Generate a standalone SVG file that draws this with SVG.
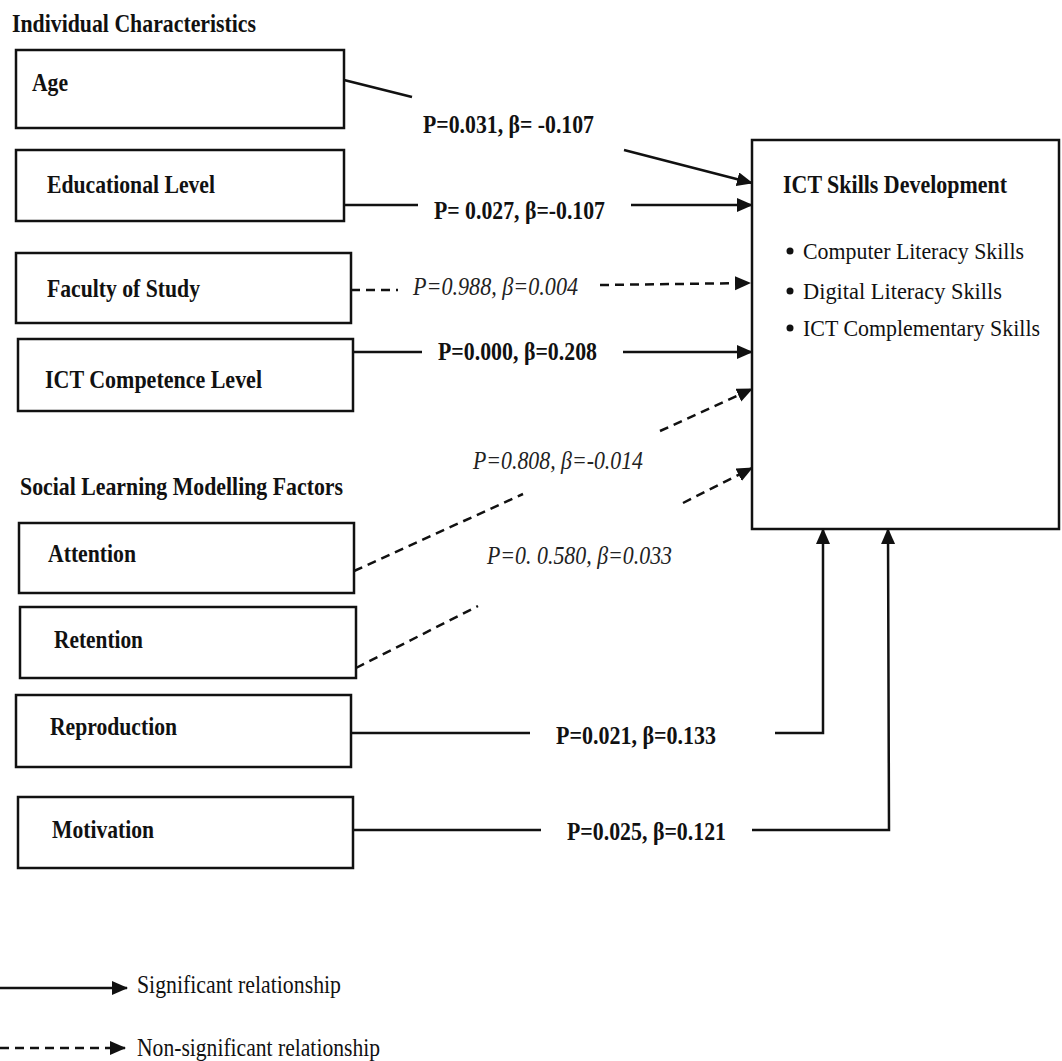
<svg xmlns="http://www.w3.org/2000/svg" width="1062" height="1061" viewBox="0 0 1062 1061">
<style>
  .box { fill: #ffffff; stroke: #111111; stroke-width: 2.5; }
  .lbl { font-family: "Liberation Serif", "Times New Roman", serif; font-size: 26px; font-weight: bold; fill: #111111; }
  .rel { font-family: "Liberation Serif", "Times New Roman", serif; font-size: 26px; font-weight: bold; fill: #111111; }
  .ns { font-family: "Liberation Serif", "Times New Roman", serif; font-size: 26px; font-style: italic; fill: #222222; }
  .reg { font-family: "Liberation Serif", "Times New Roman", serif; font-size: 26px; fill: #111111; }
  .bul { font-family: "Liberation Serif", "Times New Roman", serif; font-size: 23px; fill: #111111; }
  .sol { fill: none; stroke: #111111; stroke-width: 2.5; }
  .dash { fill: none; stroke: #111111; stroke-width: 2.5; stroke-dasharray: 9 6; }
</style>
<defs>
  <marker id="ah" markerUnits="userSpaceOnUse" markerWidth="17" markerHeight="15" refX="15" refY="7" orient="auto">
    <path d="M0,0 L16,7 L0,14 Z" fill="#111111"/>
  </marker>
</defs>
<rect width="1062" height="1061" fill="#ffffff"/>

<text class="lbl" x="12" y="32" textLength="244" lengthAdjust="spacingAndGlyphs">Individual Characteristics</text>
<text class="lbl" x="20" y="495" textLength="323" lengthAdjust="spacingAndGlyphs">Social Learning Modelling Factors</text>

<g id="age">
  <rect class="box" x="16" y="50" width="328" height="78"/>
  <text class="lbl" x="32" y="91" textLength="36" lengthAdjust="spacingAndGlyphs">Age</text>
</g>
<g id="education">
  <rect class="box" x="16" y="150" width="328" height="71"/>
  <text class="lbl" x="47" y="193" textLength="168" lengthAdjust="spacingAndGlyphs">Educational Level</text>
</g>
<g id="faculty">
  <rect class="box" x="16" y="253" width="335" height="70"/>
  <text class="lbl" x="47" y="297" textLength="153" lengthAdjust="spacingAndGlyphs">Faculty of Study</text>
</g>
<g id="competence">
  <rect class="box" x="18" y="339" width="335" height="72"/>
  <text class="lbl" x="45" y="388" textLength="217" lengthAdjust="spacingAndGlyphs">ICT Competence Level</text>
</g>
<g id="attention">
  <rect class="box" x="19" y="523" width="335" height="70"/>
  <text class="lbl" x="48" y="562" textLength="88" lengthAdjust="spacingAndGlyphs">Attention</text>
</g>
<g id="retention">
  <rect class="box" x="20" y="607" width="336" height="71"/>
  <text class="lbl" x="54" y="648" textLength="89" lengthAdjust="spacingAndGlyphs">Retention</text>
</g>
<g id="reproduction">
  <rect class="box" x="16" y="695" width="335" height="72"/>
  <text class="lbl" x="50" y="735" textLength="127" lengthAdjust="spacingAndGlyphs">Reproduction</text>
</g>
<g id="motivation">
  <rect class="box" x="18" y="797" width="335" height="71"/>
  <text class="lbl" x="52" y="838" textLength="102" lengthAdjust="spacingAndGlyphs">Motivation</text>
</g>

<g id="ict-skills">
  <rect class="box" x="752" y="140" width="307" height="389"/>
  <text class="lbl" x="783" y="193" textLength="224" lengthAdjust="spacingAndGlyphs">ICT Skills Development</text>
  <circle cx="790" cy="251" r="3.5" fill="#111111"/>
  <text class="bul" x="803" y="259" textLength="221" lengthAdjust="spacingAndGlyphs">Computer Literacy Skills</text>
  <circle cx="790" cy="291" r="3.5" fill="#111111"/>
  <text class="bul" x="803" y="299" textLength="199" lengthAdjust="spacingAndGlyphs">Digital Literacy  Skills</text>
  <circle cx="790" cy="328" r="3.5" fill="#111111"/>
  <text class="bul" x="803" y="336" textLength="237" lengthAdjust="spacingAndGlyphs">ICT Complementary Skills</text>
</g>

<g id="connectors">
  <path class="sol" d="M344,80 L412,97"/>
  <path class="sol" d="M624,150 L752,183" marker-end="url(#ah)"/>
  <text class="rel" x="423" y="133" textLength="171" lengthAdjust="spacingAndGlyphs">P=0.031, β= -0.107</text>
  <path class="sol" d="M344,205 L418,205"/>
  <path class="sol" d="M631,205 L752,205" marker-end="url(#ah)"/>
  <text class="rel" x="434" y="219" textLength="171" lengthAdjust="spacingAndGlyphs">P= 0.027, β=-0.107</text>
  <path class="dash" d="M351,290 L398,290"/>
  <path class="dash" d="M600,285 L750,283" marker-end="url(#ah)"/>
  <text class="ns" x="413" y="295" textLength="165" lengthAdjust="spacingAndGlyphs">P=0.988, β=0.004</text>
  <path class="sol" d="M353,352 L422,352"/>
  <path class="sol" d="M623,352 L752,352" marker-end="url(#ah)"/>
  <text class="rel" x="438" y="360" textLength="159" lengthAdjust="spacingAndGlyphs">P=0.000, β=0.208</text>
  <path class="dash" d="M354,571 L523,494"/>
  <path class="dash" d="M660,431 L752,389" marker-end="url(#ah)"/>
  <text class="ns" x="473" y="469" textLength="170" lengthAdjust="spacingAndGlyphs">P=0.808, β=-0.014</text>
  <path class="dash" d="M356,668 L478,606"/>
  <path class="dash" d="M683,503 L752,468" marker-end="url(#ah)"/>
  <text class="ns" x="487" y="564" textLength="185" lengthAdjust="spacingAndGlyphs">P=0. 0.580, β=0.033</text>
  <path class="sol" d="M351,733 L530,733"/>
  <path class="sol" d="M775,733 L823,733 L823,529" marker-end="url(#ah)"/>
  <text class="rel" x="556" y="744" textLength="160" lengthAdjust="spacingAndGlyphs">P=0.021, β=0.133</text>
  <path class="sol" d="M353,830 L541,830"/>
  <path class="sol" d="M752,830 L889,830 L888,529" marker-end="url(#ah)"/>
  <text class="rel" x="567" y="840" textLength="159" lengthAdjust="spacingAndGlyphs">P=0.025, β=0.121</text>
</g>

<g id="legend">
  <path class="sol" d="M0,988 L127,988" marker-end="url(#ah)"/>
  <text class="reg" x="137" y="993" textLength="204" lengthAdjust="spacingAndGlyphs">Significant relationship</text>
  <path class="dash" d="M0,1048 L125,1048" marker-end="url(#ah)"/>
  <text class="reg" x="137" y="1056" textLength="243" lengthAdjust="spacingAndGlyphs">Non-significant relationship</text>
</g>
</svg>
